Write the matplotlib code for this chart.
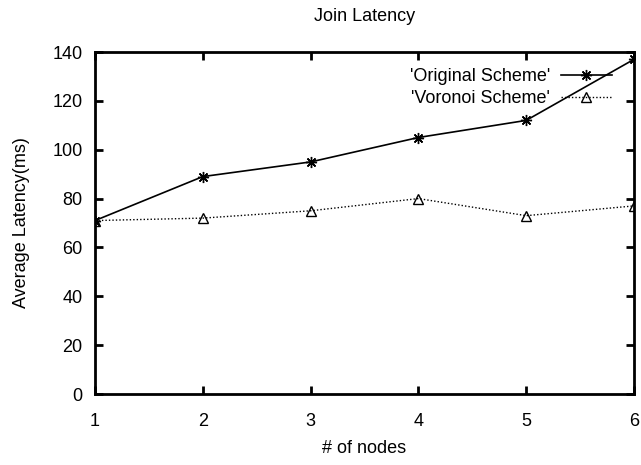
import matplotlib
matplotlib.use('Agg')
import matplotlib.pyplot as plt

plt.rcParams['font.family'] = ['Liberation Sans', 'DejaVu Sans']

nodes = [1, 2, 3, 4, 5, 6]
original = [71, 89, 95, 105, 112, 137]
voronoi = [71, 72, 75, 80, 73, 77]
yticks = [0, 20, 40, 60, 80, 100, 120, 140]

fig = plt.figure(figsize=(6.41, 4.65), dpi=100)
ax = fig.add_axes([95/641, 71/465, 539/641, 342/465])

ax.plot(nodes, original, color='black', lw=1.2, marker=(8, 2, 0), ms=8,
        mew=1.0, label="'Original Scheme'")
ax.plot(nodes, voronoi, color='black', lw=1.0, ls=(0, (1, 1.5)), marker='^',
        ms=7, mfc='none', mew=1.0, label="'Voronoi Scheme'")

ax.set_xlim(1, 6)
ax.set_ylim(0, 140)
ax.set_xticks(nodes)
ax.set_yticks(yticks)
for s in ax.spines.values():
    s.set_linewidth(2)
ax.tick_params(direction='in', top=True, right=True, length=6, width=2,
               labelsize=13)
ax.tick_params(axis='x', pad=14)
ax.tick_params(axis='y', pad=9)
ax.set_xlabel('# of nodes', fontsize=13, labelpad=7)
ax.set_ylabel('Average Latency(ms)', fontsize=13, labelpad=16)
ax.set_title('Join Latency', fontsize=13, pad=22)

leg = ax.legend(loc='upper right', bbox_to_anchor=(0.982, 0.99), frameon=False,
                markerfirst=False, fontsize=13, handlelength=2.8,
                labelspacing=0.3, borderaxespad=0.3, handletextpad=0.6)
for t in leg.get_texts():
    t.set_ha('right')

fig.savefig('out.png', dpi=100)
